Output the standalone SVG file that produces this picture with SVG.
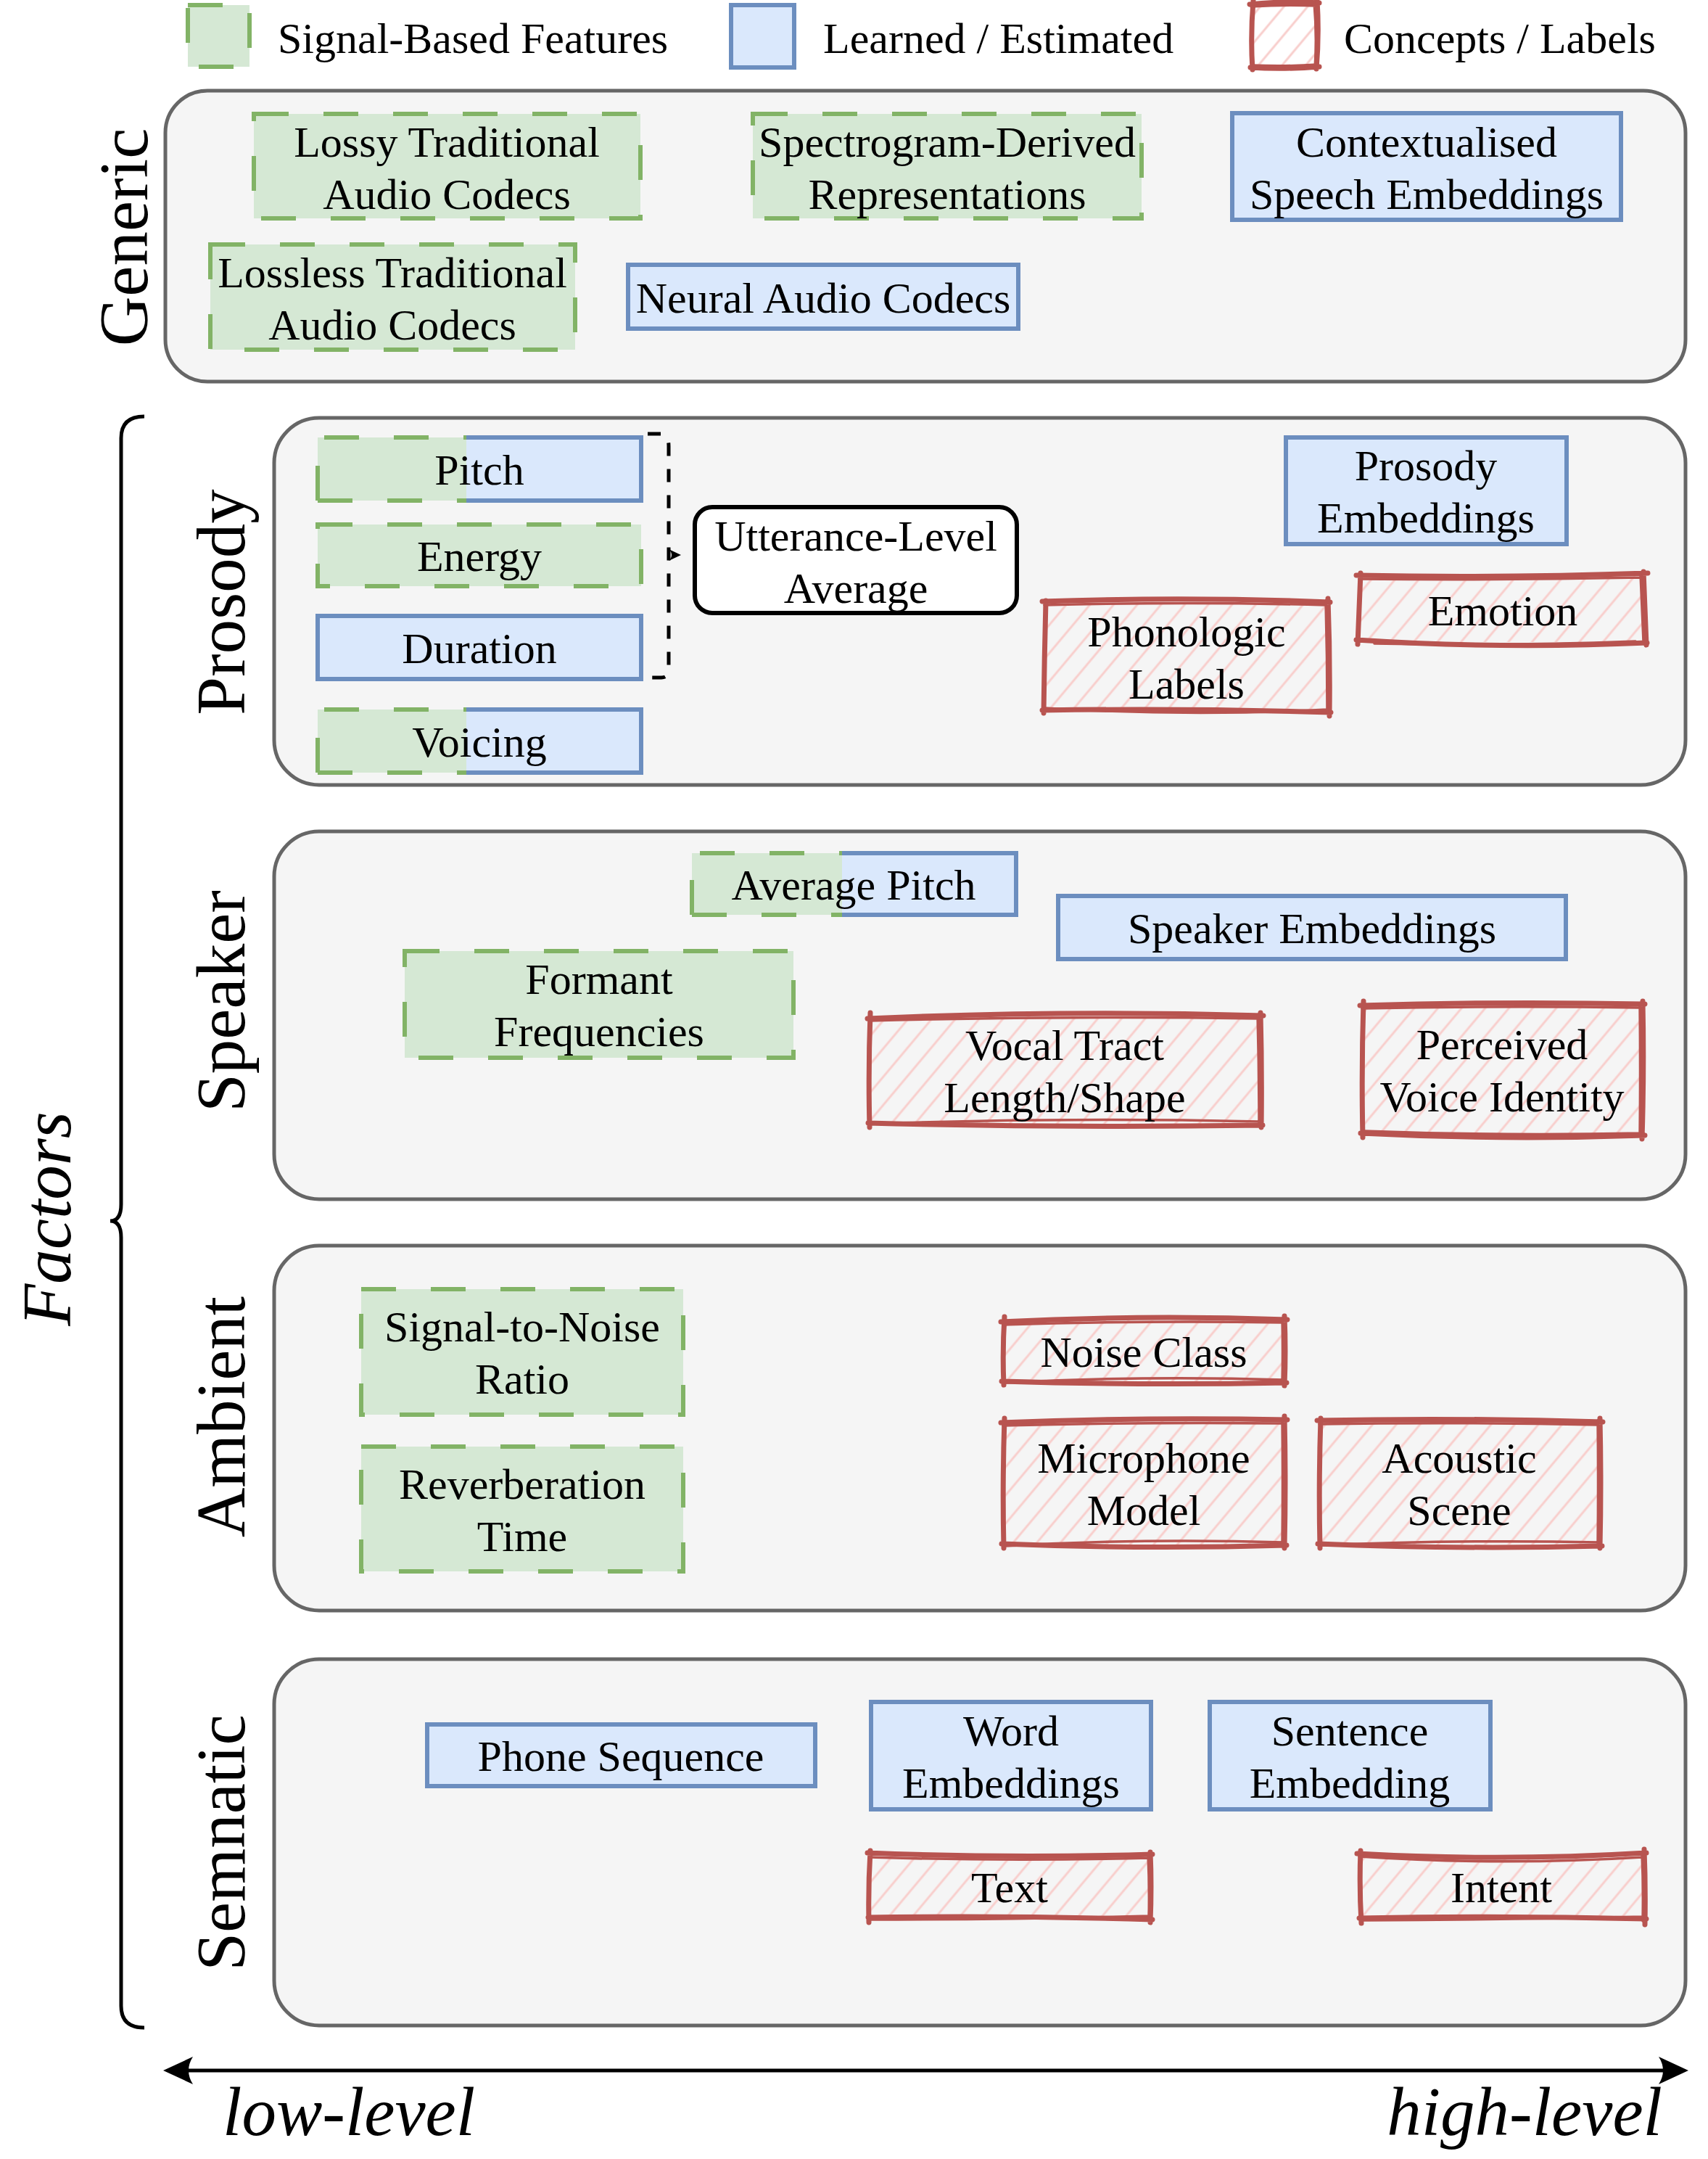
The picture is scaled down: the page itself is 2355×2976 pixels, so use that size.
<svg xmlns="http://www.w3.org/2000/svg" width="2355" height="2976" viewBox="0 0 2355 2976">
<defs>
<style>
.g{fill:#d5e8d4;stroke:#82b366;stroke-width:6;stroke-dasharray:48 48}
.gf{fill:#d5e8d4;stroke:none}
.gd{fill:none;stroke:#82b366;stroke-width:6;stroke-dasharray:48 48}
.b{fill:#dae8fc;stroke:#6c8ebf;stroke-width:6}
.bf{fill:#dae8fc;stroke:none}
.bd{fill:none;stroke:#6c8ebf;stroke-width:6}
.c{fill:#f5f5f5;stroke:#666666;stroke-width:5}
.h{fill:url(#hatch);stroke:none}
.r1{fill:none;stroke:#b85450;stroke-width:7;stroke-linecap:round;stroke-linejoin:round}
.r2{fill:none;stroke:#b85450;stroke-width:3.5;stroke-linecap:round}
.t{font-family:"Liberation Serif","Times New Roman",serif;font-size:60px;text-anchor:middle;fill:#000}
.tl{font-family:"Liberation Serif","Times New Roman",serif;font-size:60px;fill:#000}
.lab{font-family:"Liberation Serif","Times New Roman",serif;font-size:95px;text-anchor:middle;fill:#000}
.it{font-family:"Liberation Serif","Times New Roman",serif;font-size:95px;font-style:italic;fill:#000}
.conn{fill:none;stroke:#000;stroke-width:5}
</style>
<pattern id="hatch" width="25" height="25" patternUnits="userSpaceOnUse" patternTransform="rotate(40)">
<line x1="12" y1="-2" x2="12" y2="27" stroke="#f8cecc" stroke-width="3"/>
</pattern>
</defs>
<rect width="2355" height="2976" fill="#ffffff"/>

<g id="legend">
<rect class="g" x="259" y="7" width="85" height="85"/>
<text class="tl" x="383" y="73">Signal-Based Features</text>
<rect class="b" x="1008" y="7" width="87" height="86"/>
<text class="tl" x="1135" y="73">Learned / Estimated</text>
<rect class="h" x="1727" y="4" width="88" height="88"/>
<path class="r1" d="M1723,6 Q1771,1 1819,4 M1816,0 Q1819,48 1815,95 M1819,92 Q1770,96 1724,93 M1727,96 Q1724,50 1728,1"/>
<path class="r2" d="M1725,9 Q1770,6 1816,8 M1812,3 Q1816,50 1813,94 M1816,89 Q1772,92 1726,90"/>
<text class="tl" x="1853" y="73">Concepts / Labels</text>
</g>

<g id="containers">
<g id="generic"><rect class="c" x="228" y="125" width="2096" height="401" rx="58"/><text class="lab" transform="translate(203,327) rotate(-90)">Generic</text></g>
<g id="prosody"><rect class="c" x="378" y="576" width="1946" height="506" rx="62"/><text class="lab" transform="translate(337,830) rotate(-90)">Prosody</text></g>
<g id="speaker"><rect class="c" x="378" y="1146" width="1946" height="507" rx="62"/><text class="lab" transform="translate(337,1380) rotate(-90)">Speaker</text></g>
<g id="ambient"><rect class="c" x="378" y="1717" width="1946" height="503" rx="62"/><text class="lab" transform="translate(337,1953) rotate(-90)">Ambient</text></g>
<g id="semantic"><rect class="c" x="378" y="2287" width="1946" height="505" rx="62"/><text class="lab" transform="translate(337,2540) rotate(-90)">Semnatic</text></g>
</g>

<g id="generic-nodes">
<g id="lossy"><rect class="g" x="350" y="157" width="533" height="144"/><text class="t" x="616" y="216">Lossy Traditional</text><text class="t" x="616" y="288">Audio Codecs</text></g>
<g id="spectro"><rect class="g" x="1038" y="157" width="536" height="144"/><text class="t" x="1306" y="216">Spectrogram-Derived</text><text class="t" x="1306" y="288">Representations</text></g>
<g id="contextual"><rect class="b" x="1699" y="156" width="536" height="147"/><text class="t" x="1967" y="216">Contextualised</text><text class="t" x="1967" y="288">Speech Embeddings</text></g>
<g id="lossless"><rect class="g" x="290" y="337" width="503" height="145"/><text class="t" x="541" y="396">Lossless Traditional</text><text class="t" x="541" y="468">Audio Codecs</text></g>
<g id="neural"><rect class="b" x="866" y="365" width="538" height="88"/><text class="t" x="1135" y="431">Neural Audio Codecs</text></g>
</g>

<g id="prosody-nodes">
<g id="pitch"><rect class="gf" x="438" y="603" width="205" height="87"/><rect class="bf" x="643" y="603" width="241" height="87"/><path class="gd" d="M438,690 V603 H643 M438,690 H643"/><path class="bd" d="M643,603 H884 V690 H643"/><text class="t" x="661" y="668">Pitch</text></g>
<g id="energy"><rect class="g" x="438" y="723" width="446" height="85"/><text class="t" x="661" y="787">Energy</text></g>
<g id="duration"><rect class="b" x="438" y="849" width="446" height="87"/><text class="t" x="661" y="914">Duration</text></g>
<g id="voicing"><rect class="gf" x="438" y="978" width="205" height="87"/><rect class="bf" x="643" y="978" width="241" height="87"/><path class="gd" d="M438,1065 V978 H643 M438,1065 H643"/><path class="bd" d="M643,978 H884 V1065 H643"/><text class="t" x="661" y="1043">Voicing</text></g>
<g id="utterance"><rect x="958" y="699" width="444" height="146" rx="24" fill="#ffffff" stroke="#000" stroke-width="6"/><text class="t" x="1180" y="759">Utterance-Level</text><text class="t" x="1180" y="831">Average</text></g>
<g id="prosody-emb"><rect class="b" x="1773" y="603" width="387" height="147"/><text class="t" x="1966" y="662">Prosody</text><text class="t" x="1966" y="734">Embeddings</text></g>
<g id="emotion"><rect class="h" x="1876" y="794" width="390" height="91"/>
<path class="r1" d="M1870,793 Q2070,797 2272,790 M2266,788 Q2268,840 2270,889 M2271,886 Q2070,895 1870,882 M1872,888 Q1874,840 1876,790"/>
<path class="r2" d="M1874,798 Q2070,800 2262,796 M2262,792 Q2264,840 2266,884 M1895,887 Q2070,891 2255,884"/>
<text class="t" x="2072" y="862">Emotion</text></g>
<g id="phonologic"><rect class="h" x="1442" y="831" width="388" height="149"/>
<path class="r1" d="M1437,829 Q1640,822 1834,830 M1831,825 Q1834,905 1833,987 M1835,982 Q1640,976 1437,979 M1439,983 Q1440,905 1442,828"/>
<path class="r2" d="M1440,834 Q1640,829 1828,834 M1828,830 Q1830,905 1830,982 M1830,978 Q1640,988 1440,976"/>
<text class="t" x="1636" y="891">Phonologic</text><text class="t" x="1636" y="963">Labels</text></g>
</g>

<g id="speaker-nodes">
<g id="avg-pitch"><rect class="gf" x="954" y="1176" width="207" height="85"/><rect class="bf" x="1161" y="1176" width="240" height="85"/><path class="gd" d="M954,1261 V1176 H1161 M954,1261 H1161"/><path class="bd" d="M1161,1176 H1401 V1261 H1161"/><text class="t" x="1177" y="1240">Average Pitch</text></g>
<g id="speaker-emb"><rect class="b" x="1459" y="1235" width="700" height="87"/><text class="t" x="1809" y="1300">Speaker Embeddings</text></g>
<g id="formant"><rect class="g" x="558" y="1311" width="536" height="147"/><text class="t" x="826" y="1370">Formant</text><text class="t" x="826" y="1442">Frequencies</text></g>
<g id="vocal"><rect class="h" x="1200" y="1401" width="536" height="148"/>
<path class="r1" d="M1196,1404 Q1470,1392 1742,1400 M1738,1396 Q1740,1475 1739,1554 M1741,1551 Q1470,1555 1197,1548 M1199,1554 Q1197,1475 1200,1396"/>
<path class="r2" d="M1198,1407 Q1470,1400 1736,1404 M1734,1399 Q1736,1475 1736,1550 M1736,1546 Q1470,1540 1202,1549"/>
<text class="t" x="1468" y="1461">Vocal Tract</text><text class="t" x="1468" y="1533">Length/Shape</text></g>
<g id="perceived"><rect class="h" x="1879" y="1384" width="385" height="180"/>
<path class="r1" d="M1875,1386 Q2070,1380 2268,1384 M2265,1380 Q2267,1475 2264,1570 M2268,1565 Q2070,1572 1876,1562 M1879,1568 Q1877,1475 1880,1380"/>
<path class="r2" d="M1878,1390 Q2070,1386 2262,1389 M2261,1384 Q2262,1475 2261,1566 M2262,1562 Q2070,1566 1880,1559"/>
<text class="t" x="2071" y="1460">Perceived</text><text class="t" x="2071" y="1532">Voice Identity</text></g>
</g>

<g id="ambient-nodes">
<g id="snr"><rect class="g" x="498" y="1777" width="444" height="173"/><text class="t" x="720" y="1849">Signal-to-Noise</text><text class="t" x="720" y="1921">Ratio</text></g>
<g id="reverb"><rect class="g" x="498" y="1994" width="444" height="172"/><text class="t" x="720" y="2066">Reverberation</text><text class="t" x="720" y="2138">Time</text></g>
<g id="noise-class"><rect class="h" x="1384" y="1820" width="386" height="85"/>
<path class="r1" d="M1380,1822 Q1577,1812 1775,1819 M1771,1814 Q1773,1862 1771,1910 M1774,1906 Q1577,1910 1381,1904 M1384,1909 Q1382,1862 1385,1815"/>
<path class="r2" d="M1383,1826 Q1577,1820 1768,1823 M1768,1818 Q1769,1862 1768,1906 M1770,1902 Q1577,1896 1386,1906"/>
<text class="t" x="1577" y="1884">Noise Class</text></g>
<g id="microphone"><rect class="h" x="1384" y="1959" width="386" height="170"/>
<path class="r1" d="M1380,1961 Q1577,1953 1775,1957 M1771,1952 Q1773,2044 1771,2134 M1774,2130 Q1577,2136 1381,2128 M1384,2134 Q1382,2044 1385,1955"/>
<path class="r2" d="M1383,1965 Q1577,1960 1768,1962 M1768,1957 Q1769,2044 1768,2130 M1770,2126 Q1577,2120 1386,2131"/>
<text class="t" x="1577" y="2030">Microphone</text><text class="t" x="1577" y="2102">Model</text></g>
<g id="acoustic"><rect class="h" x="1820" y="1959" width="385" height="170"/>
<path class="r1" d="M1816,1958 Q2012,1954 2210,1960 M2206,1955 Q2208,2044 2206,2134 M2209,2131 Q2012,2136 1817,2128 M1820,2134 Q1818,2044 1821,1955"/>
<path class="r2" d="M1819,1963 Q2012,1960 2203,1964 M2203,1958 Q2204,2044 2203,2130 M2205,2126 Q2012,2122 1822,2130"/>
<text class="t" x="2012" y="2030">Acoustic</text><text class="t" x="2012" y="2102">Scene</text></g>
</g>

<g id="semantic-nodes">
<g id="phone-seq"><rect class="b" x="589" y="2377" width="535" height="85"/><text class="t" x="856" y="2441">Phone Sequence</text></g>
<g id="word-emb"><rect class="b" x="1201" y="2346" width="386" height="148"/><text class="t" x="1394" y="2406">Word</text><text class="t" x="1394" y="2478">Embeddings</text></g>
<g id="sentence-emb"><rect class="b" x="1668" y="2346" width="387" height="148"/><text class="t" x="1861" y="2406">Sentence</text><text class="t" x="1861" y="2478">Embedding</text></g>
<g id="text-node"><rect class="h" x="1200" y="2557" width="384" height="87"/>
<path class="r1" d="M1196,2554 Q1390,2562 1589,2556 M1586,2553 Q1588,2600 1586,2650 M1589,2646 Q1390,2640 1197,2643 M1198,2650 Q1197,2600 1200,2551"/>
<path class="r2" d="M1199,2560 Q1390,2566 1583,2561 M1583,2557 Q1585,2600 1584,2646 M1585,2641 Q1390,2646 1201,2646"/>
<text class="t" x="1392" y="2622">Text</text></g>
<g id="intent"><rect class="h" x="1876" y="2557" width="388" height="87"/>
<path class="r1" d="M1871,2555 Q2070,2566 2270,2554 M2267,2549 Q2269,2600 2268,2653 M2270,2645 Q2070,2640 1874,2644 M1877,2651 Q1874,2600 1876,2551"/>
<path class="r2" d="M1874,2559 Q2070,2572 2264,2560 M2264,2556 Q2266,2600 2265,2648 M2266,2642 Q2070,2646 1878,2647"/>
<text class="t" x="2070" y="2622">Intent</text></g>
</g>

<g id="connectors">
<path d="M893,598 L912,598 Q922,600 922,615 L922,922 Q922,934 912,934 L893,934" fill="none" stroke="#000" stroke-width="5" stroke-dasharray="18 18"/>
<path d="M922,757 L939,765 L922,773 Q930,765 922,757 Z" fill="#000"/>
<path class="conn" d="M199,574 Q167,574 167,604 V1660 Q167,1683 152,1683 Q167,1683 167,1706 V2765 Q167,2795 199,2795"/>
<line class="conn" x1="250" y1="2854" x2="2302" y2="2854"/>
<path d="M225,2854 L266,2835 Q254,2854 266,2873 Z" fill="#000"/>
<path d="M2328,2854 L2287,2835 Q2299,2854 2287,2873 Z" fill="#000"/>
</g>

<g id="axis-labels">
<text class="it" transform="translate(97,1680) rotate(-90)" text-anchor="middle">Factors</text>
<text class="it" x="307" y="2943">low-level</text>
<text class="it" x="2292" y="2943" text-anchor="end">high-level</text>
</g>
</svg>
